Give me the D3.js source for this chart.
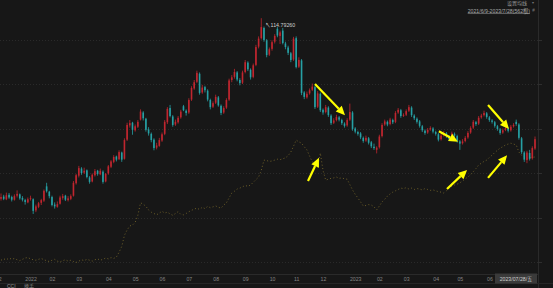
<!DOCTYPE html>
<html>
<head>
<meta charset="utf-8">
<script src="https://cdn.jsdelivr.net/npm/d3@7"></script>
<style>
html, body { margin: 0; padding: 0; background: #171717; overflow: hidden; }
svg { display: block; font-family: "Liberation Sans", "Noto Sans CJK SC", sans-serif; }
</style>
</head>
<body>
<svg id="chart" width="553" height="288"></svg>
<script>
// daily candles, visible part of the window: [open, high, low, close]
var candles = [
  [74.2,75.4,73.8,74.6],[74.7,75.1,73.9,74.2],[74.1,75.6,73.9,75.0],[75.1,75.5,74.2,74.5],[74.6,74.9,73.6,74.0],
  [74.0,75.2,73.8,74.8],[74.9,76.1,74.5,75.3],[75.2,75.4,74.0,74.3],[74.4,74.8,73.6,74.0],[73.9,74.2,72.9,73.5],
  [73.4,74.5,73.2,74.1],[74.2,74.9,73.8,74.4],[74.1,74.3,70.8,71.5],[71.6,72.9,71.2,72.5],[72.4,73.5,72.1,73.2],
  [73.3,74.2,72.8,73.9],[73.8,76.3,73.5,76.0],[77.0,77.8,75.6,75.9],[75.8,76.0,74.3,74.8],[74.6,74.9,72.5,72.8],
  [72.9,73.4,72.0,72.5],[72.4,73.6,72.2,73.0],[73.1,74.9,72.9,74.5],[74.4,75.3,74.0,74.8],[74.9,75.1,73.7,74.0],
  [73.9,74.8,73.6,74.3],[74.2,75.2,73.9,74.8],[74.9,78.2,74.7,77.8],[77.7,79.8,77.4,79.5],[79.4,81.6,79.0,81.1],
  [81.0,81.3,79.6,80.0],[80.1,81.2,79.8,80.5],[80.6,80.8,78.8,79.1],[79.0,79.3,77.6,78.0],[78.1,79.9,77.9,79.6],
  [79.5,80.9,79.2,80.4],[80.5,80.7,79.4,79.8],[79.7,81.0,79.5,80.5],[80.3,80.6,77.6,78.0],[78.1,80.0,77.9,79.8],
  [79.9,81.8,79.6,81.5],[81.4,82.9,81.1,82.6],[82.5,84.0,82.2,83.6],[83.7,83.9,82.6,83.0],[83.1,85.1,82.9,84.7],
  [84.6,84.8,82.5,83.0],[83.2,87.8,83.0,87.4],[87.5,91.3,87.2,90.8],[90.7,91.9,90.2,91.2],[91.3,91.5,88.6,89.7],
  [89.6,90.9,89.3,90.5],[90.4,91.9,90.1,91.5],[92.0,94.3,91.8,93.8],[93.6,93.9,91.8,92.3],[92.2,92.4,89.3,89.7],
  [89.8,90.3,88.4,88.9],[88.8,89.1,86.9,87.4],[87.5,87.8,85.1,85.6],[85.7,86.8,85.3,86.2],[86.1,87.9,85.9,87.4],
  [87.3,89.1,87.0,88.7],[88.8,91.9,88.5,91.5],[91.4,94.8,91.0,94.4],[94.6,95.3,92.5,92.8],[92.7,93.0,90.4,90.8],
  [90.9,92.0,90.6,91.5],[91.4,92.8,91.1,92.4],[92.5,94.2,92.2,93.8],[95.0,95.3,93.9,94.1],[94.0,94.3,92.9,93.5],
  [93.6,96.8,93.3,96.4],[96.5,99.5,96.2,99.1],[99.0,100.9,98.7,100.4],[100.5,103.0,100.2,102.5],[102.3,102.6,97.6,98.0],
  [98.1,99.8,97.8,99.2],[99.3,99.6,98.1,98.6],[98.5,98.8,96.1,96.5],[96.4,96.7,94.3,94.8],[94.9,96.1,94.6,95.7],
  [95.8,97.6,95.5,97.1],[97.0,97.3,94.9,95.2],[95.1,95.4,93.0,93.5],[93.6,95.0,93.3,94.6],[94.7,96.8,94.4,96.4],
  [96.5,101.2,96.2,100.8],[100.9,102.0,100.4,101.5],[101.6,103.4,101.2,102.7],[102.6,102.9,100.6,101.0],[100.9,101.3,99.7,100.2],
  [100.3,103.0,100.0,102.6],[102.7,105.4,102.4,104.9],[104.8,105.1,102.9,103.3],[103.2,103.5,101.0,101.5],[101.6,104.6,101.3,104.2],
  [104.3,108.8,104.0,108.3],[108.4,110.7,108.0,110.2],[110.3,114.7926,110.0,112.8],[112.6,112.9,109.5,109.9],[109.8,110.1,106.0,106.5],
  [106.6,108.2,106.3,107.8],[107.9,109.8,107.5,109.4],[109.5,111.2,109.1,110.8],[112.4,112.8,110.5,110.9],[110.8,112.0,109.0,111.6],
  [112.0,112.6,108.9,109.2],[109.1,109.5,107.8,108.3],[108.2,108.6,106.5,107.0],[106.9,107.2,104.9,105.4],[105.5,110.6,105.2,110.2],
  [110.3,110.7,103.5,103.8],[103.9,106.0,103.6,105.4],[105.3,105.6,97.5,98.0],[98.1,98.4,96.6,97.1],[97.0,98.3,96.7,97.8],
  [97.9,99.0,97.6,98.6],[98.7,100.1,98.4,99.4],[99.3,99.6,94.4,94.8],[94.9,98.4,94.6,97.9],[97.8,98.1,93.7,94.1],
  [94.2,94.5,93.1,93.6],[93.7,95.3,93.4,94.8],[94.7,95.0,92.6,93.0],[92.9,93.2,90.8,91.2],[91.3,92.3,91.0,91.8],
  [91.9,93.1,91.6,92.6],[92.5,92.8,91.6,92.0],[91.9,92.2,90.8,91.2],[91.1,91.4,90.2,90.6],[90.7,92.3,90.4,91.9],
  [92.0,95.6,91.7,93.7],[93.6,93.9,89.5,89.9],[90.0,90.3,88.9,89.3],[89.2,89.5,88.4,88.8],[88.9,89.2,87.6,88.0],
  [87.9,88.2,86.8,87.2],[87.3,88.4,87.0,87.9],[87.8,88.1,86.4,86.8],[86.9,87.2,85.6,86.0],[85.9,86.6,85.2,85.6],
  [85.2,86.0,84.4,85.7],[85.8,88.6,85.5,88.2],[88.3,91.2,88.0,90.8],[90.9,92.0,90.6,91.6],[91.5,91.8,90.5,90.9],
  [91.0,92.4,90.7,92.0],[91.9,92.2,91.0,91.4],[91.5,93.9,91.2,93.5],[93.6,94.6,93.3,94.2],[94.1,94.4,92.4,92.8],
  [92.9,93.4,92.6,93.0],[93.1,94.3,92.8,93.9],[94.0,95.3,93.7,94.8],[94.7,95.0,92.6,93.0],[92.9,93.2,91.9,92.3],
  [92.2,92.5,91.1,91.5],[91.6,91.9,90.2,90.6],[90.5,90.8,89.2,89.6],[89.5,89.8,88.6,89.0],[89.1,90.1,88.8,89.7],
  [89.8,90.5,89.5,90.1],[90.0,90.3,88.9,89.3],[89.2,89.5,88.4,88.8],[88.7,89.0,87.1,87.5],[87.6,88.8,87.3,88.4],
  [88.5,89.4,88.2,89.0],[88.9,89.2,87.9,88.3],[88.2,88.5,87.2,87.6],[87.7,89.3,87.4,88.9],[88.8,89.1,88.0,88.4],
  [88.3,88.6,86.8,87.2],[87.1,87.4,85.2,86.6],[86.7,87.6,86.4,87.1],[87.2,88.3,86.9,87.9],[88.0,89.4,87.7,89.0],
  [89.1,90.5,88.8,90.1],[90.2,91.9,89.9,91.5],[91.4,91.7,90.6,91.0],[91.1,92.8,90.8,92.4],[92.5,93.3,92.2,92.9],
  [93.0,94.0,92.7,93.5],[93.4,93.7,92.2,92.6],[92.5,92.8,91.5,91.9],[91.8,92.1,91.1,91.5],[91.4,91.7,90.2,90.6],
  [90.5,90.8,89.5,89.9],[89.8,90.1,88.6,89.0],[89.1,90.0,88.8,89.6],[89.7,90.5,89.4,90.1],[90.0,90.3,89.1,89.5],
  [89.6,90.8,89.3,90.4],[90.5,91.2,90.2,90.8],[91.5,92.0,90.6,91.0],[90.9,91.2,87.5,87.9],[87.8,88.1,84.3,84.7],
  [84.6,84.9,82.5,83.0],[82.9,85.0,82.2,84.6],[84.5,85.2,82.8,83.2],[83.3,86.0,83.0,85.6],[85.5,88.2,85.2,87.6]
];

// second series (dotted yellow), one value per candle
var holdLine = [
  60.4,60.7,60.5,60.9,60.6,60.8,60.5,60.3,60.6,60.9,
  61.0,60.7,60.5,60.4,60.6,60.8,60.5,60.3,60.1,60.4,
  60.6,60.2,60.0,60.3,60.5,60.2,60.4,60.1,59.9,60.2,
  60.5,60.3,60.6,60.4,60.2,60.5,60.7,60.4,60.6,60.9,
  60.7,61.0,60.8,61.1,62.2,63.5,66.0,67.2,68.1,68.3,
  68.9,70.5,73.3,73.0,72.5,71.7,71.2,70.9,70.6,71.0,
  71.4,71.0,71.2,70.8,70.5,70.9,71.3,70.7,70.6,70.9,
  71.3,71.6,71.9,72.1,71.8,72.3,72.0,72.5,72.2,72.4,
  72.6,72.3,72.1,72.8,73.3,74.4,75.5,75.9,76.4,76.6,
  76.9,77.2,77.0,77.3,77.9,78.5,79.1,80.6,82.9,82.8,
  82.6,82.7,82.9,83.1,83.0,83.2,83.4,83.9,84.7,86.0,
  87.4,87.0,86.7,85.9,85.2,83.8,82.5,81.9,81.3,84.5,
  80.6,78.4,78.6,78.8,78.9,79.1,78.8,78.9,78.7,78.6,
  77.4,76.2,75.2,74.4,73.5,72.6,72.7,72.9,72.8,72.4,
  71.7,72.6,73.5,74.1,74.8,75.3,75.7,76.0,76.3,76.6,
  76.5,76.7,76.4,76.6,76.3,76.5,76.4,76.2,76.5,76.3,
  76.1,76.2,76.0,75.8,75.7,75.5,76.0,76.6,77.0,77.3,
  77.5,77.8,78.2,78.7,79.1,79.6,80.3,81.0,81.8,82.2,
  82.6,82.9,83.5,84.0,84.6,85.1,85.6,85.9,86.3,86.5,
  86.7,86.5,86.3,84.7,84.0,83.6,83.3,83.4,83.5,83.6
];

// month labels and the candle index they sit on
var monthLabels = ["12","2022","02","03","04","05","06","07","08","09","10","11","12","2023","02","03","04","05","06"];
var monthIdx    = [-1, 11, 19, 29, 40, 50, 60, 70, 80, 91, 101, 110, 120, 132, 141, 151, 162, 171, 182];

var priceTicks = [60, 70, 80, 90, 100, 110];

// yellow annotation arrows: [tailIdx, tailValue, headIdx, headValue]
var arrows = [
  [117, 100.0, 128.2, 93.0],
  [114.4, 78.2, 118.5, 83.4],
  [163.2, 89.4, 170.3, 87.0],
  [181.5, 95.3, 189.3, 89.9],
  [166.2, 76.4, 173.7, 80.7],
  [181.5, 78.9, 188.6, 84.0]
];

var rangeText = "2021/6/9-2023/7/28(562根)";
var lastDate = "2023/07/28/五";

var W = 553, H = 288, plotRight = 538, axisY = 274.5;
var upColor = "#c0262f", downColor = "#26a0a4";

var svg = d3.select("#chart");
svg.append("rect").attr("width", W).attr("height", H).attr("fill", "#171717");

var x = d3.scaleLinear().domain([0, candles.length - 1]).range([1, 535]);
var y = d3.scaleLinear().domain([60, 110]).range([262, 39.5]);

// grid
svg.append("g").selectAll("line").data(priceTicks).join("line")
    .attr("x1", 0).attr("x2", plotRight)
    .attr("y1", function(d) { return Math.round(y(d)) + 0.5; })
    .attr("y2", function(d) { return Math.round(y(d)) + 0.5; })
    .attr("stroke", "#2a2a2a").attr("stroke-dasharray", "1,2");

// right axis
svg.append("line").attr("x1", plotRight + 0.5).attr("x2", plotRight + 0.5)
    .attr("y1", 0).attr("y2", H).attr("stroke", "#2a2a2a");
svg.append("g").selectAll("line").data(priceTicks).join("line")
    .attr("x1", plotRight).attr("x2", plotRight + 4)
    .attr("y1", function(d) { return Math.round(y(d)) + 0.5; })
    .attr("y2", function(d) { return Math.round(y(d)) + 0.5; })
    .attr("stroke", "#2e2e2e");

// dotted second series
var line = d3.line()
    .x(function(d, i) { return x(i); })
    .y(function(d) { return y(d); });
svg.append("path").datum(holdLine)
    .attr("d", line)
    .attr("fill", "none")
    .attr("stroke", "#76672a")
    .attr("stroke-width", 0.9)
    .attr("stroke-dasharray", "1,2.4");

// candles
var cg = svg.append("g");
candles.forEach(function(d, i) {
    var col = d[3] >= d[0] ? upColor : downColor;
    cg.append("line")
        .attr("x1", x(i)).attr("x2", x(i))
        .attr("y1", y(d[1])).attr("y2", y(d[2]))
        .attr("stroke", col).attr("stroke-width", 0.8);
    var top = y(Math.max(d[0], d[3]));
    var h = Math.max(0.8, Math.abs(y(d[0]) - y(d[3])));
    cg.append("rect")
        .attr("x", x(i) - 0.8).attr("width", 1.6)
        .attr("y", top).attr("height", h)
        .attr("fill", col);
});

// max label
var maxI = d3.maxIndex(candles, function(d) { return d[1]; });
svg.append("text")
    .attr("x", x(maxI) + 4).attr("y", y(candles[maxI][1]) + 9)
    .attr("font-size", 5.3).attr("fill", "#cfcfcf")
    .text("↖" + candles[maxI][1].toFixed(5));

// arrows
var ag = svg.append("g");
arrows.forEach(function(a) {
    var x1 = x(a[0]), y1 = y(a[1]), x2 = x(a[2]), y2 = y(a[3]);
    var dx = x2 - x1, dy = y2 - y1, len = Math.sqrt(dx * dx + dy * dy);
    var ux = dx / len, uy = dy / len, hl = 9, hw = 4.2;
    var bx = x2 - ux * hl, by = y2 - uy * hl;
    ag.append("line")
        .attr("x1", x1).attr("y1", y1).attr("x2", bx).attr("y2", by)
        .attr("stroke", "#ffff00").attr("stroke-width", 2.2);
    ag.append("polygon")
        .attr("points", [[x2, y2], [bx - uy * hw, by + ux * hw], [bx + uy * hw, by - ux * hw]].join(" "))
        .attr("fill", "#ffff00");
});

// x axis
svg.append("line").attr("x1", 0).attr("x2", plotRight)
    .attr("y1", axisY).attr("y2", axisY).attr("stroke", "#2a2a2a");
svg.append("line").attr("x1", 0).attr("x2", W)
    .attr("y1", 283.5).attr("y2", 283.5).attr("stroke", "#262626");
var xAxis = d3.axisBottom(x)
    .tickValues(monthIdx)
    .tickFormat(function(d, i) { return monthLabels[i]; })
    .tickSize(0).tickPadding(2.5);
var axg = svg.append("g").attr("transform", "translate(0," + axisY + ")").call(xAxis);
axg.select(".domain").remove();
axg.selectAll("text").attr("fill", "#858585").attr("font-size", 5.2)
    .attr("font-family", "Liberation Sans, sans-serif");

// last date box
var lastX = x(candles.length - 1) + 2;
svg.append("rect").attr("x", lastX - 42).attr("y", 273.5)
    .attr("width", 42).attr("height", 10).attr("fill", "#3a3a3a");
svg.append("text").attr("x", lastX - 21).attr("y", 280.6)
    .attr("text-anchor", "middle").attr("font-size", 5.2).attr("fill", "#cfcfcf")
    .text(lastDate);

// top right info
svg.append("text").attr("x", 527).attr("y", 4.8).attr("text-anchor", "end")
    .attr("font-size", 5).attr("fill", "#9a9a9a").text("设置均线");
svg.append("text").attr("x", 533).attr("y", 4).attr("text-anchor", "middle")
    .attr("font-size", 4).attr("fill", "#777").text("▾");
svg.append("text").attr("x", 530).attr("y", 12.5).attr("text-anchor", "end")
    .attr("font-size", 5.2).attr("fill", "#a8a8a8")
    .attr("text-decoration", "underline").text(rangeText);
svg.append("text").attr("x", 533.5).attr("y", 12).attr("text-anchor", "middle")
    .attr("font-size", 4.5).attr("fill", "#777").text("#");

// bottom indicator tabs
svg.append("text").attr("x", 7).attr("y", 288).attr("font-size", 5)
    .attr("fill", "#9a9a9a").text("CCI");
svg.append("text").attr("x", 24).attr("y", 288).attr("font-size", 5)
    .attr("fill", "#8a8a8a").text("换手");
</script>
</body>
</html>
